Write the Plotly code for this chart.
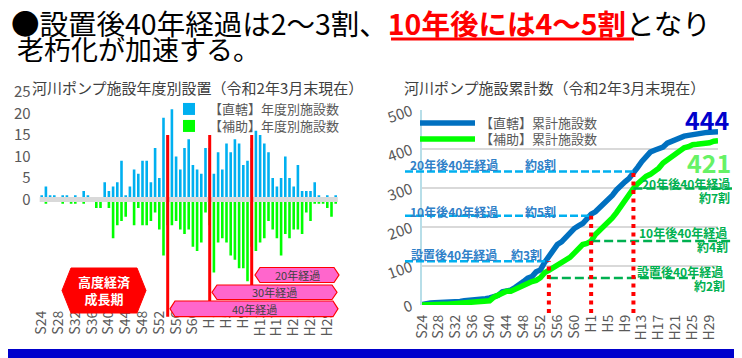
import plotly.graph_objects as go
import numpy as np

# The page body margin places the figure at (8, 8) in the 742x358 window,
# so the figure is 734x350 and everything is designed in window pixels.
OFF = 8
W, H = 742 - OFF, 358 - OFF
def px(x): return (x - OFF) / W
def py(y): return 1 - (y - OFF) / H

FONT = "Noto Sans CJK JP"

# ---------------- data ----------------
years = [f"S{n}" for n in range(24, 64)] + [f"H{n}" for n in range(1, 32)]
tick_labels = ["S24", "S28", "S32", "S36", "S40", "S44", "S48", "S52", "S56", "S60",
               "H1", "H5", "H9", "H13", "H17", "H21", "H25", "H29"]

direct_yearly = [1, 3, 1, 1, 0, 1, 1, 0, 1, 0, 2, 1, 0, 0, 0,
                 4, 2, 3, 4, 9, 1, 3, 7, 6, 9, 9, 4, 12, 5,
                 19, 15, 21, 10, 7, 12, 14, 8, 7, 6, 12, 12,
                 6, 11, 7, 13, 11, 14, 13, 8, 9, 12, 16, 15, 13, 11,
                 5, 3, 5, 10, 5, 3, 8, 2, 2, 2, 4, 1, 0, 1, 0, 1]
subsidy_yearly = [0, 1, 0, 0, 0, 1, 0, 1, 1, 0, 1, 0, 0, 2, 2,
                  0, 2, 9, 6, 5, 4, 0, 6, 2, 6, 6, 5, 3, 7,
                  13, 6, 6, 5, 7, 8, 7, 11, 12, 10, 3, 6,
                  17, 10, 9, 10, 13, 14, 16, 16, 19, 11, 12, 10, 9, 5,
                  7, 9, 13, 8, 9, 7, 7, 8, 3, 5, 1, 1, 1, 2, 4, 1]
direct_total = 444
subsidy_total = 421

milestone_years = ["S54", "H1", "H11"]          # 40 / 30 / 20 years elapsed
direct_marks = [112, 229, 342]                  # 約3割, 約5割, 約8割
subsidy_marks = [69, 164, 299]                  # 約2割, 約4割, 約7割
direct_mark_labels = [("設置後40年経過", "約3割"), ("10年後40年経過", "約5割"), ("20年後40年経過", "約8割")]
subsidy_mark_labels = [("設置後40年経過", "約2割"), ("10年後40年経過", "約4割"), ("20年後40年経過", "約7割")]
elapsed_labels = ["40年経過", "30年経過", "20年経過"]

cum_direct = np.cumsum(direct_yearly)
cum_subsidy = np.cumsum(subsidy_yearly)

# ---------------- geometry (window pixels) ----------------
L_X0, L_X1, L_Y0, L_Y1 = 39.6, 337.8, 307, 92
R_X0, R_X1, R_Y0, R_Y1 = 422, 718, 305, 110

def rx(cat):
    return R_X0 + years.index(cat) * (R_X1 - R_X0) / 70
def ry(v):
    return R_Y0 - v * (R_Y0 - R_Y1) / 500

GREY = "#595959"
fig = go.Figure()

fig.add_trace(go.Bar(x=years, y=direct_yearly, name="【直轄】年度別施設数",
                     marker=dict(color="#00B0F0", line=dict(width=0)),
                     xaxis="x", yaxis="y", legend="legend"))
fig.add_trace(go.Bar(x=years, y=[-v for v in subsidy_yearly], name="【補助】年度別施設数",
                     marker=dict(color="#00FF00", line=dict(width=0)),
                     xaxis="x", yaxis="y", legend="legend3"))
fig.add_trace(go.Scatter(x=years, y=cum_direct, mode="lines", name="【直轄】累計施設数",
                         line=dict(color="#0070C0", width=5.5),
                         xaxis="x2", yaxis="y4", legend="legend2"))
fig.add_trace(go.Scatter(x=years, y=cum_subsidy, mode="lines", name="【補助】累計施設数",
                         line=dict(color="#00FF00", width=5.5),
                         xaxis="x2", yaxis="y4", legend="legend4"))

shapes = []
shapes.append(dict(type="line", xref="x", yref="y", x0=-0.6, x1=70.6, y0=0, y1=0,
                   line=dict(color="#D9D9D9", width=5), layer="above"))
red_bottoms = [316.7, 301, 285]
for cat, yb in zip(milestone_years, red_bottoms):
    shapes.append(dict(type="line", xref="x", yref="paper", x0=cat, x1=cat,
                       y0=py(yb), y1=py(135), line=dict(color="#FF0000", width=3), layer="above"))

def chevron(x0, x1, y0, y1, d):
    ym = (y0 + y1) / 2
    pts = [(x0, ym), (x0 + d, y0), (x1 - d, y0), (x1, ym), (x1 - d, y1), (x0 + d, y1)]
    return "M " + " L ".join(f"{px(a):.5f},{py(b):.5f}" for a, b in pts) + " Z"

shapes.append(dict(type="path", xref="paper", yref="paper", path=chevron(62, 146, 268, 313, 9),
                   fillcolor="#FF0000", line=dict(color="#FF0000", width=1), layer="above"))
boxes = [(170, 338, 301, 316.7), (212, 337, 285, 299.5), (255, 339, 267.5, 282.5)]
for (x0, x1, y0, y1) in boxes:
    shapes.append(dict(type="path", xref="paper", yref="paper", path=chevron(x0, x1, y0, y1, 5),
                       fillcolor="#FF66CC", line=dict(color="#FF0000", width=1.2), layer="above"))

green_ends = [695, 733, 732]
for k, cat in enumerate(milestone_years):
    shapes.append(dict(type="line", xref="paper", yref="y4", x0=px(405), x1=px(rx(cat)),
                       y0=direct_marks[k], y1=direct_marks[k],
                       line=dict(color="#00B0F0", width=2.5, dash="8px,3px"), layer="above"))
    shapes.append(dict(type="line", xref="paper", yref="y4", x0=px(rx(cat)), x1=px(green_ends[k]),
                       y0=subsidy_marks[k], y1=subsidy_marks[k],
                       line=dict(color="#00B050", width=2.5, dash="9px,4px"), layer="above"))
for k, cat in enumerate(milestone_years):
    shapes.append(dict(type="line", xref="x2", yref="paper", x0=cat, x1=cat,
                       y0=py(313), y1=py(ry(direct_marks[k])),
                       line=dict(color="#FF0000", width=4, dash="4px,4.5px"), layer="above"))

# red underline of the highlighted title part
shapes.append(dict(type="line", xref="paper", yref="paper", x0=px(391), x1=px(634), y0=py(39), y1=py(39),
                   line=dict(color="#FF0000", width=3), layer="above"))

FRAME = "#0000CC"
for (x0, x1, y0, y1) in [(0, 8, 0, 358), (736, 742, 0, 358), (0, 742, 0, 3), (0, 742, 349, 358)]:
    shapes.append(dict(type="rect", xref="paper", yref="paper", x0=px(x0), x1=px(x1),
                       y0=py(y1), y1=py(y0), fillcolor=FRAME, line=dict(width=0), layer="above"))

ann = []
def A(text, x, y, size, color, xanchor="left", bold=False):
    if bold:
        text = f"<b>{text}</b>"
    ann.append(dict(text=text, x=px(x), y=py(y), xref="paper", yref="paper", showarrow=False,
                    xanchor=xanchor, yanchor="middle", font=dict(family=FONT, size=size, color=color)))

A("●設置後40年経過は2～3割、<span style='color:#FF0000'><b>10年後には4～5割</b></span>となり",
  9, 23, 28.5, "#000000")
A("老朽化が加速する。", 15, 49, 27, "#000000")
A("河川ポンプ施設年度別設置（令和2年3月末現在）", 30, 88, 15, "#404040")
A("河川ポンプ施設累計数（令和2年3月末現在）", 402, 88, 15, "#404040")

A("高度経済<br>成長期", 104, 290, 13, "#FFFFFF", xanchor="center", bold=True)
centers = [(254, 309), (274.5, 292), (297, 275)]
for lab, (cx, cy) in zip(elapsed_labels, centers):
    A(lab, cx, cy, 11, "#404040", xanchor="center")

blue_txt = "#2F80C8"
blue_pos = [(409, 509, 254), (408, 523, 211), (408, 523, 164.5)]
for (a, b), (x0, x1, yy) in zip(direct_mark_labels, blue_pos):
    A(a, x0, yy, 12, blue_txt, bold=True)
    A(b, x1, yy, 12, blue_txt, bold=True)
green_txt = "#00B050"
green_pos = [(725, 727, 271, 285), (729, 730, 232, 246.7), (732, 732, 183.5, 197.5)]
for (a, b), (xa, xb, ya, yb) in zip(subsidy_mark_labels, green_pos):
    A(a, xa, ya, 12, green_txt, xanchor="right", bold=True)
    A(b, xb, yb, 12, green_txt, xanchor="right", bold=True)

A(str(direct_total), 707, 119, 25, "#0000CC", xanchor="center", bold=True)
A(str(subsidy_total), 709, 162, 25, "#66F266", xanchor="center", bold=True)

def leg(x, y, itemwidth=30):
    return dict(x=px(x), y=py(y), xanchor="left", yanchor="middle", itemwidth=itemwidth,
                bgcolor="rgba(0,0,0,0)", font=dict(family=FONT, size=13, color=GREY))

fig.update_layout(
    width=W, height=H, margin=dict(l=0, r=0, t=0, b=0, pad=0, autoexpand=False),
    paper_bgcolor="white", plot_bgcolor="rgba(0,0,0,0)",
    barmode="relative", bargap=0.38,
    font=dict(family=FONT, color=GREY),
    showlegend=True,
    legend=leg(169, 109), legend3=leg(169, 126),
    legend2=leg(415, 123, 55), legend4=leg(415, 139, 55),
    xaxis=dict(domain=[px(L_X0), px(L_X1)], anchor="y", type="category",
               categoryorder="array", categoryarray=years, range=[-0.5, 70.5],
               tickmode="array", tickvals=tick_labels, ticktext=tick_labels, tickangle=-90,
               tickfont=dict(size=14, color=GREY), showgrid=False, zeroline=False,
               showline=False, ticks="", automargin=False),
    yaxis=dict(domain=[py(L_Y0), py(L_Y1)], anchor="x", range=[-25, 25],
               tickmode="array", tickvals=[0, 5, 10, 15, 20, 25], showgrid=False, zeroline=False,
               tickfont=dict(size=15, color=GREY), ticks="", ticklabelstandoff=8, automargin=False),
    yaxis2=dict(overlaying="y", side="right", anchor="x", range=[-25, 25],
                tickmode="array", tickvals=[0, -5, -10, -15, -20, -25],
                ticktext=["0", "5", "10", "15", "20", "25"], showgrid=False, zeroline=False,
                tickfont=dict(size=15, color=GREY), ticks="", ticklabelstandoff=12, automargin=False),
    yaxis3=dict(overlaying="y", anchor="x", range=[-25, 25], tickmode="array",
                tickvals=[-25, -20, -15, -10, -5, 5, 10, 15, 20], showgrid=True,
                gridcolor="#D9D9D9", gridwidth=1.5, showticklabels=False, zeroline=False, ticks=""),
    xaxis2=dict(domain=[px(R_X0), px(R_X1)], anchor="y4", type="category",
                categoryorder="array", categoryarray=years, range=[0, 70],
                tickmode="array", tickvals=tick_labels, ticktext=tick_labels, tickangle=-90,
                tickfont=dict(size=14, color=GREY), showgrid=False, zeroline=False,
                showline=False, ticks="", ticklabelstandoff=6, automargin=False),
    yaxis4=dict(domain=[py(R_Y0), py(R_Y1)], anchor="x2", range=[0, 500],
                tickmode="array", tickvals=[0, 100, 200, 300, 400, 500], showgrid=True,
                gridcolor="#D9D9D9", gridwidth=1.5, zeroline=False, showline=True,
                linecolor="#B7DEE8", linewidth=2, ticks="", tickangle=-20,
                tickfont=dict(size=15, color=GREY), ticklabelstandoff=6, automargin=False),
    shapes=shapes, annotations=ann,
)

fig.write_html("out.html")
